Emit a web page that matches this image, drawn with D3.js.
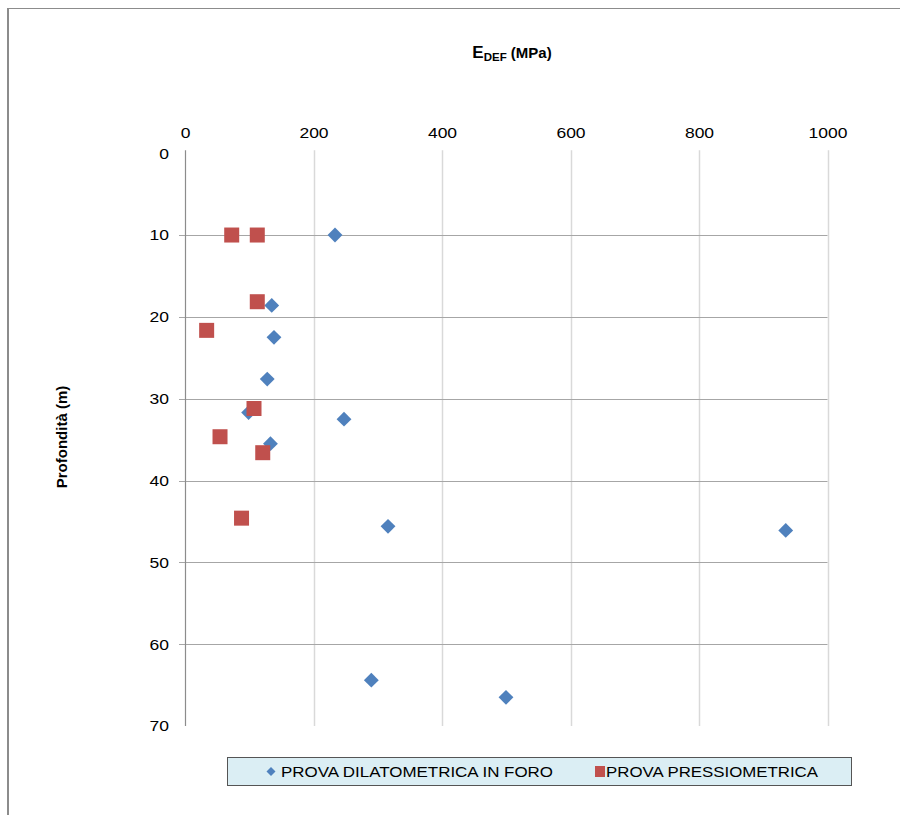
<!DOCTYPE html>
<html>
<head>
<meta charset="utf-8">
<script src="https://cdn.jsdelivr.net/npm/d3@7"></script>
<style>
  html, body { margin: 0; padding: 0; background: #fff; }
  svg { display: block; font-family: "Liberation Sans", Arial, sans-serif; }
</style>
</head>
<body>
<svg id="chart" width="900" height="815"></svg>
<script>
// E_def (MPa) against depth (m)
const dilatoE     = [233.5, 135, 138.5, 128, 99, 247.5, 133, 316, 935, 290, 499.6];
const dilatoDepth = [10.0, 18.6, 22.5, 27.6, 31.7, 32.5, 35.5, 45.6, 46.1, 64.4, 66.5];
const pressioE     = [72.7, 112.5, 112.5, 33.7, 107.4, 54.5, 121, 88];
const pressioDepth = [10.0, 10.0, 18.15, 21.65, 31.2, 34.65, 36.6, 44.6];
const xTicks = [0, 200, 400, 600, 800, 1000];
const yTicks = [0, 10, 20, 30, 40, 50, 60, 70];
const seriesNames = ["PROVA DILATOMETRICA IN FORO", "PROVA PRESSIOMETRICA"];
const colors = ["#4f81bd", "#c0504d"];

const svg = d3.select("#chart");
const widen = 1.13; // horizontal stretch applied to label glyphs

// outer frame
svg.append("line").attr("x1", 8).attr("x2", 900).attr("y1", 8.5).attr("y2", 8.5)
  .attr("stroke", "#8c8c8c").attr("stroke-width", 1);
svg.append("line").attr("x1", 8).attr("x2", 8).attr("y1", 8).attr("y2", 815)
  .attr("stroke", "#8c8c8c").attr("stroke-width", 2);

const x = d3.scaleLinear().domain([0, 1000]).range([185, 827.5]);
const y = d3.scaleLinear().domain([0, 70]).range([153.2, 726]);

// vertical gridlines
svg.append("g").selectAll("line").data(xTicks.filter(d => d > 0)).join("line")
  .attr("x1", d => Math.round(x(d)) + 0.5).attr("x2", d => Math.round(x(d)) + 0.5)
  .attr("y1", y(0) - 3).attr("y2", y(70))
  .attr("stroke", "#d9d9d9").attr("stroke-width", 1.5);

// horizontal gridlines with outer ticks
svg.append("g").selectAll("line").data(yTicks.filter(d => d > 0 && d < 70)).join("line")
  .attr("x1", x(0) - 6).attr("x2", x(1000))
  .attr("y1", d => Math.round(y(d)) + 0.5).attr("y2", d => Math.round(y(d)) + 0.5)
  .attr("stroke", "#a6a6a6").attr("stroke-width", 1.2);

// vertical axis line
svg.append("line").attr("x1", Math.round(x(0)) + 0.5).attr("x2", Math.round(x(0)) + 0.5)
  .attr("y1", y(0) - 3).attr("y2", y(70))
  .attr("stroke", "#8c8c8c").attr("stroke-width", 1.2);

// top axis labels
const xAxis = d3.axisTop(x).tickValues(xTicks).tickFormat(d3.format("d")).tickSize(0).tickPadding(0);
const gx = svg.append("g").attr("transform", "translate(0,138)").call(xAxis);
gx.select(".domain").remove();
gx.selectAll("text").attr("font-size", 15.5).attr("fill", "#000")
  .attr("font-family", "Liberation Sans, Arial, sans-serif")
  .attr("transform", `scale(${widen},1)`);

// left axis labels
const yAxis = d3.axisLeft(y).tickValues(yTicks).tickSize(0).tickPadding(0);
const gy = svg.append("g").attr("transform", "translate(169,0)").call(yAxis);
gy.select(".domain").remove();
gy.selectAll("text").attr("font-size", 15.5).attr("fill", "#000")
  .attr("font-family", "Liberation Sans, Arial, sans-serif")
  .attr("transform", `scale(${widen},1)`);

// axis titles
const t = svg.append("text").attr("x", 512).attr("y", 58).attr("text-anchor", "middle")
  .attr("font-weight", "bold").attr("font-size", 15).attr("fill", "#000");
t.append("tspan").attr("font-size", 17).text("E");
t.append("tspan").attr("font-size", 11.5).attr("dy", 3).text("DEF");
t.append("tspan").attr("dy", -3).text(" (MPa)");

svg.append("text").attr("transform", "translate(67,437) rotate(-90)")
  .attr("text-anchor", "middle").attr("font-weight", "bold").attr("font-size", 15)
  .attr("fill", "#000").text("Profondità (m)");

// markers
const diamond = d3.symbol().type(d3.symbolSquare).size(110);
const dilato = dilatoE.map((v, i) => ({ e: v, d: dilatoDepth[i] }));
const pressio = pressioE.map((v, i) => ({ e: v, d: pressioDepth[i] }));

svg.append("g").selectAll("path").data(dilato).join("path")
  .attr("d", diamond)
  .attr("transform", d => `translate(${x(d.e)},${y(d.d)}) rotate(45)`)
  .attr("fill", colors[0]);

svg.append("g").selectAll("rect").data(pressio).join("rect")
  .attr("x", d => x(d.e) - 7.5).attr("y", d => y(d.d) - 7.5)
  .attr("width", 15).attr("height", 15)
  .attr("fill", colors[1]);

// legend
const lg = svg.append("g");
lg.append("rect").attr("x", 227.5).attr("y", 757.5).attr("width", 624).attr("height", 28)
  .attr("fill", "#dbeef4").attr("stroke", "#555").attr("stroke-width", 1);
lg.append("path").attr("d", d3.symbol().type(d3.symbolSquare).size(40))
  .attr("transform", "translate(271,771.5) rotate(45)").attr("fill", colors[0]);
lg.append("text").attr("x", 281).attr("y", 777).attr("font-size", 15.5).attr("fill", "#000")
  .attr("textLength", 272).attr("lengthAdjust", "spacingAndGlyphs")
  .text(seriesNames[0]);
lg.append("rect").attr("x", 595).attr("y", 766).attr("width", 10).attr("height", 11).attr("fill", colors[1]);
lg.append("text").attr("x", 606).attr("y", 777).attr("font-size", 15.5).attr("fill", "#000")
  .attr("textLength", 212).attr("lengthAdjust", "spacingAndGlyphs")
  .text(seriesNames[1]);
</script>
</body>
</html>
